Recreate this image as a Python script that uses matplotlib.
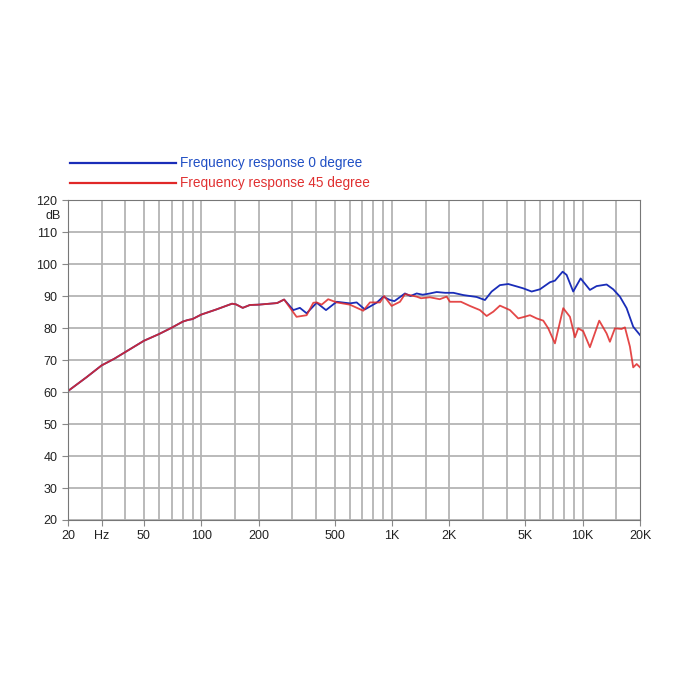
import matplotlib
matplotlib.use("Agg")
import matplotlib.pyplot as plt

plt.rcParams['font.family'] = ['Liberation Sans', 'DejaVu Sans']

# shared low-frequency part (both curves identical up to ~270 Hz)
common_f = [20, 25, 30, 35, 40, 50, 60, 70, 80, 85, 90, 100, 120, 145, 152, 165, 180, 200, 250, 272]
common_db = [60.3, 64.6, 68.3, 70.4, 72.5, 76.0, 78.1, 80.1, 82.0, 82.5, 82.8, 84.2, 85.8, 87.6, 87.4, 86.3, 87.2, 87.3, 87.8, 88.9]

f0 = [304, 329, 357, 403, 451, 513, 602, 653, 721, 831, 900, 976, 1030, 1170, 1250, 1348, 1450, 1582,
      1716, 1900, 2100, 2366, 2780, 3074, 3334, 3684, 4073, 4508, 4882, 5404, 5970, 6740, 7158, 7855,
      8240, 8926, 9762, 10920, 11840, 13360, 14470, 15690, 17010, 18420, 20000]
db0 = [85.6, 86.3, 84.6, 87.9, 85.6, 88.2, 87.7, 88.0, 85.8, 87.9, 89.8, 88.75, 88.4, 90.8, 90.0, 90.8, 90.4, 90.8,
       91.25, 91.0, 91.0, 90.3, 89.7, 88.75, 91.4, 93.4, 93.75, 93.0, 92.4, 91.4, 92.1, 94.3, 94.8, 97.6,
       96.6, 91.4, 95.5, 91.9, 93.1, 93.6, 92.1, 89.8, 86.2, 80.4, 77.8]

f45 = [316, 357, 387, 403, 428, 463, 513, 602, 707, 767, 865, 910, 996, 1102, 1170, 1348, 1420, 1582,
       1780, 1936, 2014, 2300, 2564, 2894, 3138, 3400, 3684, 4158, 4596, 4882, 5294, 5740, 6217, 6602,
       7158, 7912, 8580, 9115, 9484, 10070, 10920, 12220, 13360, 13900, 14770, 16010, 16670, 17700,
       18420, 19200, 20000]
db45 = [83.5, 84.0, 87.9, 88.0, 87.3, 89.0, 88.0, 87.3, 85.4, 88.0, 88.0, 90.0, 86.9, 88.2, 90.6, 89.8, 89.3, 89.6,
        89.0, 89.8, 88.2, 88.2, 86.9, 85.6, 83.75, 85.1, 87.0, 85.6, 83.0, 83.4, 84.0, 83.0, 82.3, 79.9,
        75.2, 86.2, 83.5, 77.1, 79.9, 79.0, 74.0, 82.3, 78.3, 75.7, 79.9, 79.7, 80.2, 74.2,
        67.7, 68.75, 67.7]

xticks = [20, 30, 50, 100, 200, 500, 1000, 2000, 5000, 10000, 20000]
xtick_labels = ['20', 'Hz', '50', '100', '200', '500', '1K', '2K', '5K', '10K', '20K']
xgrid = [30, 40, 50, 60, 70, 80, 90, 100, 150, 200, 300, 400, 500, 600, 700, 800, 900,
         1000, 1500, 2000, 3000, 4000, 5000, 6000, 7000, 8000, 9000, 10000, 15000]
yticks = list(range(20, 121, 10))

blue = '#1a2db8'
red = '#e02828'

fig = plt.figure(figsize=(6.95, 6.95), dpi=100)
ax = fig.add_axes([0.0978, 0.2518, 0.8231, 0.4604])

for g in xgrid:
    ax.axvline(g, color='#b4b4b4', lw=1.3, zorder=0)
for g in yticks:
    ax.axhline(g, color='#b4b4b4', lw=1.3, zorder=0)

ax.semilogx(common_f + f0, common_db + db0, color=blue, lw=1.3,
            label='Frequency response 0 degree')
ax.semilogx(common_f + f45, common_db + db45, color=red, lw=1.3, alpha=0.85,
            label='Frequency response 45 degree')

ax.set_xlim(20, 20000)
ax.set_ylim(20, 120)
ax.set_xticks(xticks)
ax.set_xticklabels(xtick_labels)
ax.minorticks_off()
ax.set_yticks(yticks)
ax.tick_params(labelsize=9, length=4, color='#888888', labelcolor='#222222')
for s in ax.spines.values():
    s.set_color('#777777')
ax.text(-0.012, 115, 'dB', transform=ax.get_yaxis_transform(), ha='right', va='center',
        fontsize=9, color='#222222')

leg = ax.legend(loc='lower left', bbox_to_anchor=(0.003, 1.03), frameon=False,
                fontsize=9.8, handlelength=7.8, handletextpad=0.3, labelspacing=0.45,
                borderpad=0, borderaxespad=0, labelcolor=['#1f4fc4', '#e03030'])
for h in leg.get_lines():
    h.set_alpha(1)
    h.set_linewidth(1.6)

fig.savefig('out.png', dpi=100)
